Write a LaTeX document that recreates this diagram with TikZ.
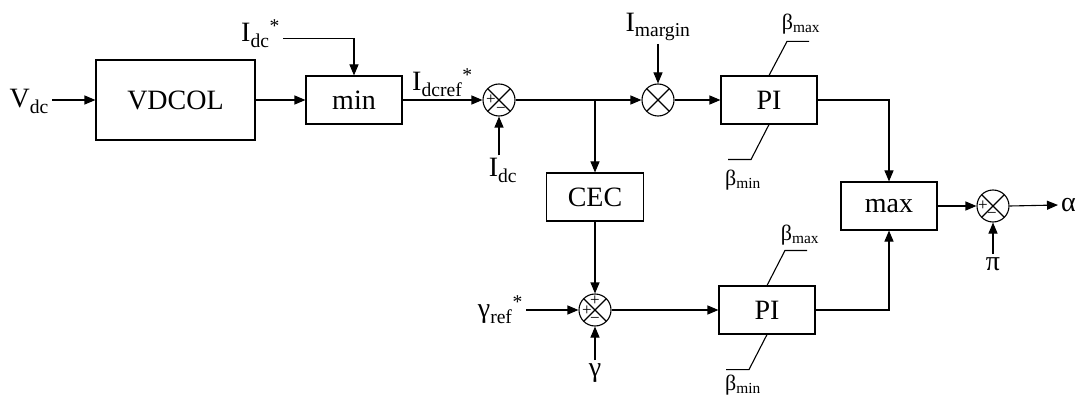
\documentclass[tikz,border=0pt]{standalone}
\usepackage{fontspec}
\setmainfont{Liberation Serif}
\usetikzlibrary{arrows.meta,positioning,calc}
\tikzset{
  >={Triangle[length=11pt,width=9pt]},
  font=\rmfamily\fontsize{28}{32}\selectfont,
  blk/.style ={draw, line width=1.1pt, minimum height=48pt, minimum width=96pt, align=center, inner sep=0pt},
  sumc/.style={draw, circle, line width=1.1pt, minimum size=32pt, inner sep=0pt,
               path picture={\draw[line width=1.1pt] (path picture bounding box.north west) -- (path picture bounding box.south east)
                             (path picture bounding box.north east) -- (path picture bounding box.south west);}},
  arr/.style ={->, line width=1.1pt},
  wire/.style={line width=1.1pt},
  lbl/.style ={inner sep=3pt},
  sgn/.style ={font=\rmfamily\fontsize{17}{17}\selectfont, inner sep=0pt},
  lim/.style ={font=\rmfamily\fontsize{22}{24}\selectfont, inner sep=0pt},
}
\newcommand{\lo}[1]{\textsubscript{#1}}
\newcommand{\hi}[1]{\textsuperscript{#1}}

\begin{document}
\begin{tikzpicture}[x=1pt, y=-1pt]
  \useasboundingbox (0,0) rectangle (1083,398);

  \node[blk, minimum width=159pt, minimum height=80pt] (vdcol) at (175.5,100) {VDCOL};
  \node[blk] (mn)  at (354,100) {min};
  \node[sumc] (s1) at (499,100) {};
  \node[sumc] (mul) at (658,100) {};
  \node[blk] (pi1) at (769,100) {PI};
  \node[blk, minimum width=97pt] (cec) at (595,197) {CEC};
  \node[sumc] (s2) at (595,310) {};
  \node[blk] (pi2) at (767,310) {PI};
  \node[blk] (mx)  at (889,206) {max};
  \node[sumc] (s3) at (993,206) {};
  \coordinate (jn) at (595,100);

  \node[lbl, anchor=base east] (vdc)  at (52,108) {V\lo{dc}};
  \node[lbl, anchor=base east] (idcs) at (283,42) {I\lo{dc}\hi{*}};
  \node[lbl, anchor=base west] (idcr) at (409,91) {I\lo{dcref}\hi{*}};
  \node[lbl, anchor=base] (idc)  at (503,177) {I\lo{dc}};
  \node[lbl, anchor=base] (imar) at (658,32) {I\lo{margin}};
  \node[lbl, anchor=east] (gref) at (526,310) {γ\lo{ref}\hi{*}};
  \node[lbl, anchor=north] (gam) at (595,360) {γ};
  \node[lbl, anchor=north] (piv) at (993,254) {π};
  \node[lbl, anchor=west] (alp) at (1058,205) {α};

  \node[lim] (bmax1) at (801,24)  {β\lo{max}};
  \node[lim] (bmin1) at (743,180) {β\lo{min}};
  \node[lim] (bmax2) at (800,235) {β\lo{max}};
  \node[lim] (bmin2) at (743,385) {β\lo{min}};
  \draw[wire] (pi1.north) -- ++(18,-34) -- ++(22,0);
  \draw[wire] (pi1.south) -- ++(-18,35) -- ++(-23,0);
  \draw[wire] (pi2.north) -- ++(18,-35) -- ++(22,0);
  \draw[wire] (pi2.south) -- ++(-18,35) -- ++(-23,0);

  \node[sgn] at ($(s1)+(-8,0)$) {+};
  \node[sgn] at ($(s1)+(2,10)$) {−};
  \node[sgn] at ($(s2)+(0,-9)$) {+};
  \node[sgn] at ($(s2)+(-8,1)$) {+};
  \node[sgn] at ($(s2)+(0,10)$) {−};
  \node[sgn] at ($(s3)+(-10,0)$) {+};
  \node[sgn] at ($(s3)+(-1,9)$) {−};

  \draw[arr] (vdc.east |- vdcol.west) -- (vdcol.west);
  \draw[arr] (vdcol.east) -- (mn.west);
  \draw[arr] ([yshift=-5pt]idcs.east) -| (mn.north);
  \draw[arr] (mn.east) -- (s1.west);
  \draw[arr] (idc.north -| s1) -- (s1.south);
  \draw[arr] (s1.east) -- (mul.west);
  \draw[arr] (imar.south -| mul) -- (mul.north);
  \draw[arr] (mul.east) -- (pi1.west);
  \draw[arr] (jn) -- (cec.north);
  \draw[arr] (pi1.east) -| (mx.north);
  \draw[arr] (cec.south) -- (s2.north);
  \draw[arr] (gref.east) -- (s2.west);
  \draw[arr] (gam.north) -- (s2.south);
  \draw[arr] (s2.east) -- (pi2.west);
  \draw[arr] (pi2.east) -| (mx.south);
  \draw[arr] (mx.east) -- (s3.west);
  \draw[arr] (piv.north) -- (s3.south);
  \draw[arr] (s3.east) -- (alp.west);
\end{tikzpicture}
\end{document}
